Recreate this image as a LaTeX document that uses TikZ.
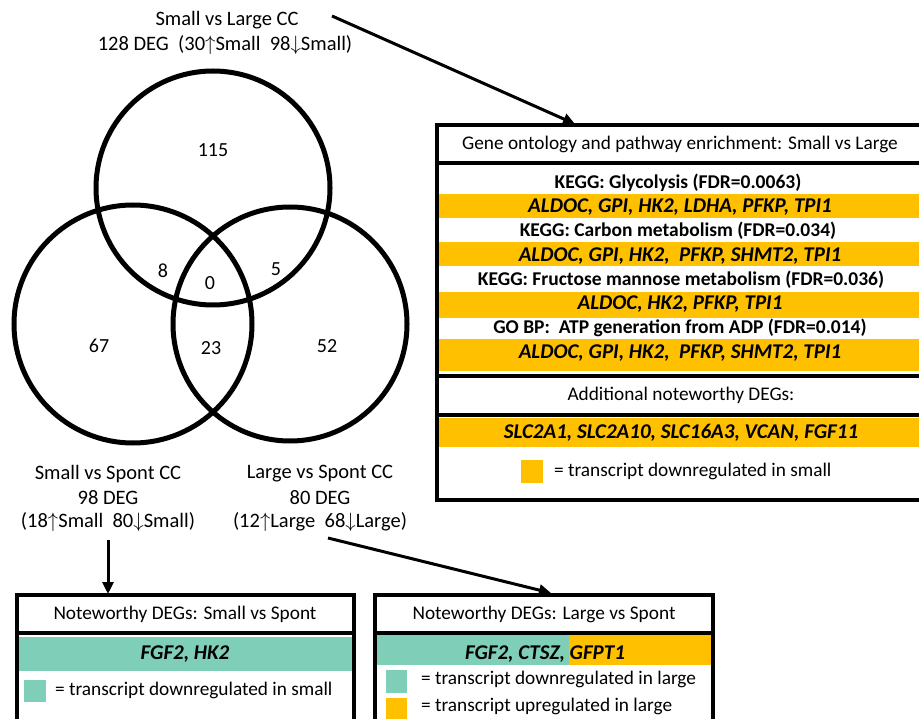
\documentclass[tikz,border=0pt]{standalone}
\usepackage{fontspec}
\setmainfont{Carlito}
\usetikzlibrary{arrows.meta}
\definecolor{gold}{HTML}{FFC000}
\definecolor{mint}{HTML}{7FCFB8}
\begin{document}
\begin{tikzpicture}[x=1pt,y=-1pt,
  venn/.style={line width=5pt},
  boxline/.style={line width=3.5pt},
  conn/.style={line width=3pt,-{Triangle[length=12pt,width=11pt]}},
  lab/.style={font=\fontsize{20.5}{24}\selectfont, inner sep=0pt},
  num/.style={font=\fontsize{20}{24}\selectfont, inner sep=0pt},
  head/.style={font=\fontsize{19.3}{22}\selectfont, inner sep=0pt},
  kegg/.style={font=\fontsize{19.5}{22}\selectfont\bfseries, inner sep=0pt},
  gene/.style={font=\fontsize{21}{24}\selectfont\bfseries\itshape, inner sep=0pt},
  leg/.style={font=\fontsize{19.3}{22}\selectfont, inner sep=0pt, anchor=west}]
\useasboundingbox (0,0) rectangle (919,719);
\fill[white] (0,0) rectangle (919,719);

% Venn circles
\draw[venn] (213,188) circle (117);
\draw[venn] (133,324) circle (119);
\draw[venn] (290,324) circle (117);
\node[num] (n115) at (213,150) {115};
\node[num] (n8) at (163,271) {8};
\node[num] (n5) at (276,269) {5};
\node[num] (n0) at (210,283) {0};
\node[num] (n67) at (99,346) {67};
\node[num] (n23) at (211,348) {23};
\node[num] (n52) at (327,346) {52};

% Venn labels
\node[lab] (slA) at (227,20) {Small vs Large CC};
\node[lab] (slB) at (225,45) {128 DEG\ \ (30$\uparrow$Small\ \ 98$\downarrow$Small)};
\node[lab] (ssA) at (108,474) {Small vs Spont CC};
\node[lab] (ssB) at (108,498) {98 DEG};
\node[lab] (ssC) at (108,522) {(18$\uparrow$Small\ \ 80$\downarrow$Small)};
\node[lab] (lsA) at (320,474) {Large vs Spont CC};
\node[lab] (lsB) at (320,498) {80 DEG};
\node[lab] (lsC) at (320,522) {(12$\uparrow$Large\ \ 68$\downarrow$Large)};

% Big GO box
\fill[gold] (439,194) rectangle (922,218);
\fill[gold] (439,242) rectangle (922,266);
\fill[gold] (439,292) rectangle (922,318);
\fill[gold] (439,339) rectangle (922,371);
\fill[gold] (439,418) rectangle (922,447);
\fill[gold] (521,460) rectangle (543,483);
\draw[boxline] (437,125) rectangle (923,500);
\draw[boxline] (437,163) -- (923,163);
\draw[boxline] (437,376) -- (923,376);
\draw[boxline] (437,415) -- (923,415);
\node[head] (gohead) at (680,144) {Gene ontology and pathway enrichment: Small vs Large};
\node[kegg] (k1) at (678,183) {KEGG: Glycolysis (FDR=0.0063)};
\node[gene] (g1) at (680,207) {ALDOC, GPI, HK2, LDHA, PFKP, TPI1};
\node[kegg] (k2) at (678,231) {KEGG: Carbon metabolism (FDR=0.034)};
\node[gene] (g2) at (680,256) {ALDOC, GPI, HK2,\ \ PFKP, SHMT2, TPI1};
\node[kegg] (k3) at (681,280) {KEGG: Fructose mannose metabolism (FDR=0.036)};
\node[gene] (g3) at (680,304) {ALDOC, HK2, PFKP, TPI1};
\node[kegg] (k4) at (680,328) {GO BP:\ \ ATP generation from ADP (FDR=0.014)};
\node[gene] (g4) at (680,353) {ALDOC, GPI, HK2,\ \ PFKP, SHMT2, TPI1};
\node[head] (addl) at (681,395) {Additional noteworthy DEGs:};
\node[gene] (g5) at (681,433) {SLC2A1, SLC2A10, SLC16A3, VCAN, FGF11};
\node[leg] (leg1) at (554,471) {= transcript downregulated in small};

% Small vs Spont box
\fill[mint] (19,637) rectangle (352,671);
\fill[mint] (24,680) rectangle (46,702);
\draw[boxline] (17,595) rectangle (354,725);
\draw[boxline] (17,633) -- (354,633);
\node[head] (sshead) at (185,614) {Noteworthy DEGs: Small vs Spont};
\node[gene] (ssg) at (185,654) {FGF2, HK2};
\node[leg] (leg2) at (55,690) {= transcript downregulated in small};

% Large vs Spont box
\fill[mint] (377,635) rectangle (569,665);
\fill[gold] (569,635) rectangle (711,665);
\fill[mint] (386,670) rectangle (407,693);
\fill[gold] (386,698) rectangle (407,721);
\draw[boxline] (375,595) rectangle (713,725);
\draw[boxline] (375,633) -- (713,633);
\node[head] (lshead) at (544,614) {Noteworthy DEGs: Large vs Spont};
\node[gene] (lsg) at (545,654) {FGF2, CTSZ, GFPT1};
\node[leg] (leg3) at (421,679) {= transcript downregulated in large};
\node[leg] (leg4) at (421,706) {= transcript upregulated in large};

% connectors
\coordinate (a1s) at (332,16);
\coordinate (a1e) at (575,124);
\coordinate (a2s) at (108,540);
\coordinate (a2e) at (108,594);
\coordinate (a3s) at (328,538);
\coordinate (a3e) at (551,593);
\draw[conn] (a1s) -- (a1e);
\draw[conn] (a2s) -- (a2e);
\draw[conn] (a3s) -- (a3e);
\end{tikzpicture}
\end{document}
